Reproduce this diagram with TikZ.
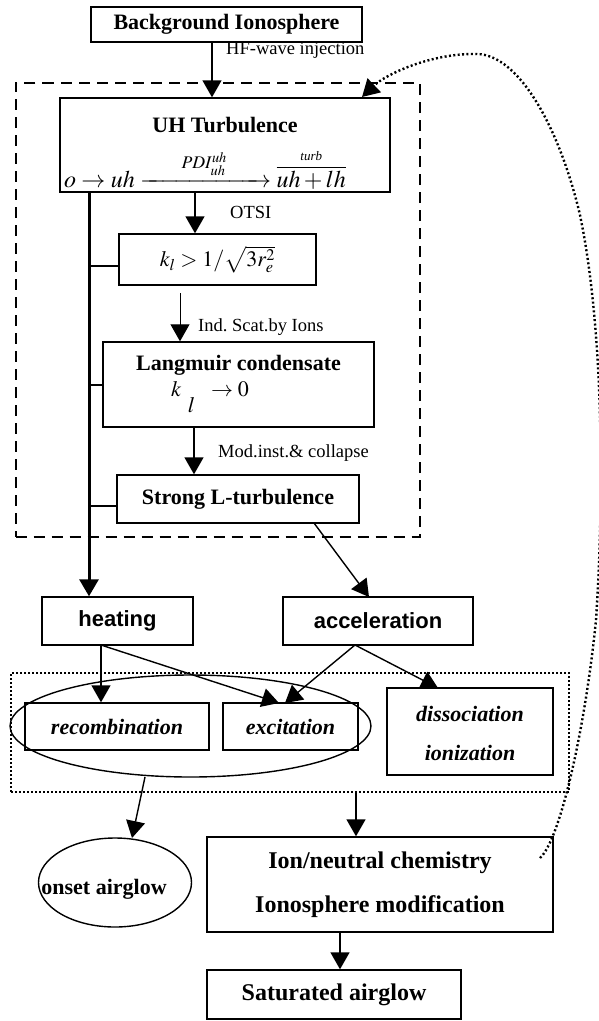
\documentclass[tikz,border=0pt]{standalone}
\usepackage{amsmath}
\usepackage{mathptmx}
\usepackage{fontspec}
\setmainfont{Liberation Serif}
\newfontfamily\arialf{Liberation Sans}
\usetikzlibrary{arrows.meta,shapes.geometric,calc}
\tikzset{
  box/.style={draw, line width=1.4pt, inner sep=0pt, align=center},
  ttl/.style={font=\fontsize{22}{24}\selectfont\bfseries, inner sep=0pt},
  sanst/.style={font=\fontsize{22}{24}\selectfont\arialf\bfseries},
  itl/.style={font=\fontsize{22}{24}\selectfont\bfseries\itshape, inner sep=0pt},
  lbl/.style={font=\fontsize{18.5}{20}\selectfont, inner sep=0pt, anchor=west},
  mth/.style={font=\fontsize{22}{24}\selectfont, inner sep=0pt},
  bigmth/.style={font=\fontsize{24}{26}\selectfont, inner sep=0pt},
  tip/.style={-{Triangle[width=19pt,length=17pt]}},
  arr/.style={line width=1.4pt, tip},
  thinarr/.style={line width=1pt, tip},
  trunkline/.style={line width=3pt, tip},
  branch/.style={line width=1.4pt},
  dashbox/.style={draw, line width=2pt, dash pattern=on 11pt off 7pt, inner sep=0pt},
  dotbox/.style={draw, line width=2pt, dash pattern=on 2pt off 2pt, inner sep=0pt},
  dotcurve/.style={line width=2.4pt, dash pattern=on 2pt off 2.4pt, tip},
  ell/.style={draw, ellipse, line width=1.4pt, inner sep=0pt}
}
\begin{document}
\frenchspacing
\begin{tikzpicture}[x=1pt,y=-1pt]
\useasboundingbox (0,0) rectangle (599,1021);
% outer groups
\node[dashbox, minimum width=404pt, minimum height=454pt] (dash) at (217.5,310) {};
\node[dotbox, minimum width=558pt, minimum height=119pt] (dots) at (290,732.5) {};
% boxes
\node[box, ttl, minimum width=271pt, minimum height=35pt] (bg) at (226.5,24.5) {Background Ionosphere};
\node[box, minimum width=330pt, minimum height=94pt] (uh) at (225,145) {};
\node[ttl] (uhT) at (225,125) {UH Turbulence};
\node[bigmth, anchor=base] (uhF) at (205,187) {$o \rightarrow uh \xrightarrow{\hspace{1.5em}PDI^{uh}_{uh}\hspace{1.5em}} \overset{\text{\fontsize{13}{13}\selectfont\itshape turb}}{\overline{uh + lh}}$};
\node[box, mth, minimum width=197pt, minimum height=51pt] (k) at (217.5,259.5) {$k_{l} > 1/\sqrt{3r_e^2}$};
\node[box, minimum width=271pt, minimum height=85pt] (lang) at (238.5,384.5) {};
\node[ttl] (langT) at (238.5,365) {Langmuir condensate};
\node[mth, anchor=base west] (langF) at (171,396) {$k\hspace{0.3em}\raisebox{-0.75em}{$l$}\hspace{0.5em}\rightarrow 0$};
\node[box, ttl, minimum width=242pt, minimum height=48pt] (strong) at (238,499) {Strong L-turbulence};
\node[box, sanst, minimum width=151pt, minimum height=48pt] (heat) at (117.5,621) {heating};
\node[box, sanst, minimum width=190pt, minimum height=48pt] (accel) at (378,621) {acceleration};
\node[box, itl, minimum width=184pt, minimum height=47pt] (recomb) at (117,726.5) {recombination};
\node[box, itl, minimum width=135pt, minimum height=47pt] (excit) at (290.5,726.5) {excitation};
\node[ell, minimum width=361pt, minimum height=102pt] (bigell) at (190.5,726) {};
\node[box, minimum width=166pt, minimum height=87pt] (dissoc) at (470,731.5) {};
\node[itl] (dissA) at (470,714) {dissociation};
\node[itl] (dissB) at (470,753) {ionization};
\node[box, minimum width=346pt, minimum height=95pt] (ion) at (380,884.5) {};
\node[ttl, font=\fontsize{24}{26}\selectfont\bfseries] (ionA) at (380,863) {Ion/neutral chemistry};
\node[ttl, font=\fontsize{24}{26}\selectfont\bfseries] (ionB) at (380,907) {Ionosphere modification};
\node[ell, minimum width=153pt, minimum height=89pt] (onset) at (115,882.5) {};
\node[ttl] (onsetT) at (104,889) {onset airglow};
\node[box, ttl, font=\fontsize{24}{26}\selectfont\bfseries, minimum width=254pt, minimum height=49pt] (sat) at (334,994.5) {Saturated airglow};
% labels
\node[lbl] (hf) at (226,50) {HF-wave injection};
\node[lbl] (otsi) at (230,212) {OTSI};
\node[lbl] (ind) at (198,327) {Ind. Scat.by Ions};
\node[lbl] (mod) at (218,453) {Mod.inst.\& collapse};
% main chain
\coordinate (hfa) at (212,42);
\draw[arr] (hfa) -- (hfa |- uh.north);
\coordinate (otsa) at (195,192);
\draw[arr] (otsa) -- (otsa |- k.north);
\coordinate (inda) at (180,293);
\draw[thinarr] (inda) -- (inda |- lang.north);
\coordinate (moda) at (194,427);
\draw[arr] (moda) -- (moda |- strong.north);
% trunk and branches
\coordinate (trunk) at (89,192);
\draw[trunkline] (trunk) -- (trunk |- heat.north);
\coordinate (kb) at (119,266);
\draw[branch] (kb) -- (kb -| trunk);
\coordinate (lb) at (103,385);
\draw[branch] (lb) -- (lb -| trunk);
\coordinate (sb) at (117,506);
\draw[branch] (sb) -- (sb -| trunk);
% strong to acceleration
\coordinate (sa) at (314,523);
\coordinate (ae) at (369,597);
\draw[arr] (sa) -- (ae);
% heating / acceleration to processes
\coordinate (hb) at (101,645);
\draw[arr] (hb) -- (hb |- recomb.north);
\coordinate (ex1) at (279,703);
\draw[arr] (hb) -- (ex1);
\coordinate (ab) at (355,645);
\coordinate (ex2) at (285,703);
\draw[arr] (ab) -- (ex2);
\coordinate (ds) at (438,688);
\draw[arr] (ab) -- (ds);
% lower arrows
\coordinate (db) at (356,792);
\draw[arr] (db) -- (db |- ion.north);
\coordinate (eb) at (145,777);
\coordinate (ot) at (132,838);
\draw[arr] (eb) -- (ot);
\coordinate (ib) at (340,932);
\draw[arr] (ib) -- (ib |- sat.north);
% feedback dotted curve
\coordinate (fbs) at (540,858);
\coordinate (fbe) at (362,97);
\draw[dotcurve] (fbs) .. controls (560,840) and (585,730) .. (596,620)
  .. controls (604,500) and (604,330) .. (580,215)
  .. controls (560,130) and (520,55) .. (477,54)
  .. controls (430,53) and (385,75) .. (fbe);
\end{tikzpicture}
\end{document}
